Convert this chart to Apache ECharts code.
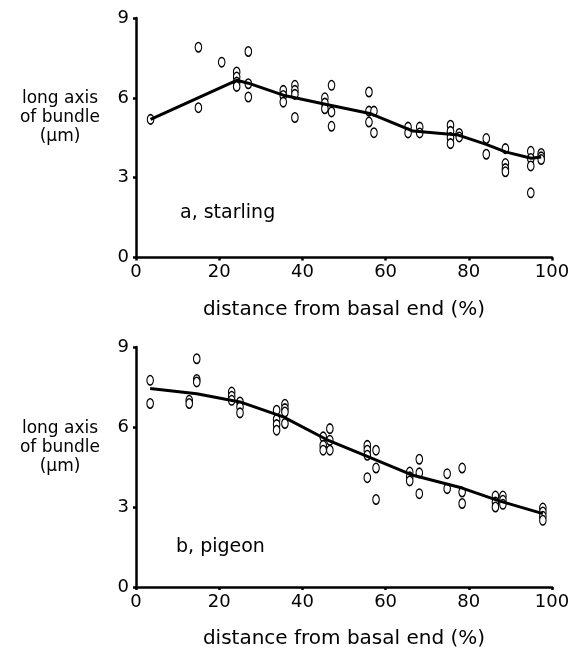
<!DOCTYPE html>
<html>
<head>
<meta charset="utf-8">
<script src="https://cdn.jsdelivr.net/npm/echarts@6/dist/echarts.min.js"></script>
<style>html,body{margin:0;padding:0;background:#fff}#c{width:573px;height:652px}</style>
</head>
<body>
<div id="c"></div>
<script>
// ---- data ----
const xTicks = [0, 20, 40, 60, 80, 100];
const yTicks = [0, 3, 6, 9];

// (a) starling: individual measurements
const starlingX = [3.5, 15, 15, 20.6, 24.2, 24.2, 24.2, 24.2, 27, 27, 27,
  35.4, 35.4, 35.4, 38.2, 38.2, 38.2, 38.2, 45.4, 45.4, 45.4, 47, 47, 47,
  56.0, 56.0, 56.0, 57.2, 57.2, 65.4, 65.4, 68.2, 68.2,
  75.6, 75.6, 75.6, 75.6, 77.7, 77.7, 84.2, 84.2,
  88.8, 88.8, 88.8, 88.8, 94.9, 94.9, 94.9, 94.9, 97.4, 97.4, 97.4];
const starlingY = [5.19, 7.9, 5.63, 7.34, 6.97, 6.78, 6.59, 6.43, 7.74, 6.53, 6.03,
  6.28, 6.09, 5.84, 6.47, 6.28, 6.13, 5.26, 6.0, 5.8, 5.59, 6.47, 5.47, 4.93,
  6.22, 5.5, 5.09, 5.5, 4.69, 4.9, 4.68, 4.9, 4.68,
  4.97, 4.74, 4.51, 4.28, 4.66, 4.53, 4.47, 3.88,
  4.09, 3.53, 3.34, 3.22, 3.99, 3.72, 3.44, 2.43, 3.91, 3.78, 3.68];
// (a) starling: mean line
const starlingLineX = [3.5, 24.2, 27, 35.4, 45.8, 56.5, 66.6, 77.5, 84.2, 88.8, 95, 97.4];
const starlingLineY = [5.19, 6.66, 6.55, 6.1, 5.75, 5.4, 4.75, 4.6, 4.25, 3.97, 3.73, 3.78];

// (b) pigeon: individual measurements
const pigeonX = [3.4, 3.4, 14.6, 14.6, 14.6, 12.8, 12.8, 23, 23, 23, 25, 25, 25,
  33.8, 33.8, 33.8, 33.8, 35.8, 35.8, 35.8, 35.8, 45, 45, 45, 46.6, 46.6, 46.6,
  55.6, 55.6, 55.6, 57.7, 57.7, 55.6, 57.7, 65.8, 65.8, 65.8, 68.1, 68.1, 68.1,
  74.8, 74.8, 78.4, 78.4, 78.4, 86.4, 86.4, 86.4, 88.2, 88.2, 88.2,
  97.8, 97.8, 97.8, 97.8];
const pigeonY = [7.75, 6.88, 8.56, 7.78, 7.69, 7.0, 6.88, 7.31, 7.15, 7.0, 6.94, 6.75, 6.53,
  6.63, 6.28, 6.09, 5.88, 6.85, 6.69, 6.56, 6.13, 5.63, 5.31, 5.13, 5.94, 5.5, 5.13,
  5.31, 5.13, 4.94, 5.13, 4.46, 4.1, 3.28, 4.31, 4.13, 3.98, 4.79, 4.28, 3.5,
  4.25, 3.69, 4.46, 3.56, 3.13, 3.41, 3.19, 3.0, 3.41, 3.25, 3.1,
  2.96, 2.81, 2.65, 2.5];
// (b) pigeon: mean line
const pigeonLineX = [3.4, 14.6, 25, 35.4, 45.8, 55.6, 66.6, 78.4, 87.3, 97.8];
const pigeonLineY = [7.44, 7.25, 6.94, 6.38, 5.53, 4.9, 4.19, 3.71, 3.23, 2.75];

const panelLabels = ['a, starling', 'b, pigeon'];
const xName = 'distance from basal end (%)';
const yName = 'long axis\nof bundle\n(µm)';

// ---- chart ----
const zip = (a, b) => a.map((v, i) => [v, b[i]]);
const FONT = 'DejaVu Sans';
const grids = [
  { left: 136, top: 18, width: 416, height: 239.5 },
  { left: 136, top: 347, width: 416, height: 240 }
];
function xAxis(i) {
  return {
    gridIndex: i, type: 'value', min: 0, max: 100, interval: 20,
    name: xName, nameLocation: 'middle', nameGap: 42,
    nameTextStyle: { fontFamily: FONT, fontSize: 20, color: '#000' },
    axisLine: { lineStyle: { color: '#000', width: 2.5 } },
    axisTick: { show: true, length: 3, lineStyle: { color: '#000', width: 2.5 } },
    axisLabel: { fontFamily: FONT, fontSize: 18, color: '#000', margin: 6 },
    splitLine: { show: false }
  };
}
function yAxis(i) {
  return {
    gridIndex: i, type: 'value', min: 0, max: 9, interval: 3,
    axisLine: { show: true, lineStyle: { color: '#000', width: 2.5 } },
    axisTick: { show: true, length: 3, lineStyle: { color: '#000', width: 2.5 } },
    axisLabel: { fontFamily: FONT, fontSize: 18, color: '#000', margin: 7 },
    splitLine: { show: false }
  };
}
function scatter(i, xs, ys) {
  return {
    type: 'scatter', xAxisIndex: i, yAxisIndex: i, data: zip(xs, ys),
    symbol: 'circle', symbolSize: [6.5, 9.5],
    itemStyle: { color: '#fff', borderColor: '#000', borderWidth: 1.3, opacity: 1 },
    z: 3
  };
}
function line(i, xs, ys) {
  return {
    type: 'line', xAxisIndex: i, yAxisIndex: i, data: zip(xs, ys),
    showSymbol: false, symbol: 'none',
    lineStyle: { color: '#000', width: 3 }, z: 4, animation: false
  };
}
const chart = echarts.init(document.getElementById('c'), null, { renderer: 'canvas' });
chart.setOption({
  animation: false,
  backgroundColor: '#fff',
  grid: grids,
  xAxis: [xAxis(0), xAxis(1)],
  yAxis: [yAxis(0), yAxis(1)],
  series: [
    scatter(0, starlingX, starlingY), line(0, starlingLineX, starlingLineY),
    scatter(1, pigeonX, pigeonY), line(1, pigeonLineX, pigeonLineY)
  ],
  graphic: [
    { type: 'text', left: 180, top: 204, style: { text: panelLabels[0], font: '19px "DejaVu Sans"', fill: '#000' } },
    { type: 'text', left: 176, top: 538, style: { text: panelLabels[1], font: '19px "DejaVu Sans"', fill: '#000' } },
    { type: 'text', x: 60, y: 118, style: { text: yName, font: '17px "DejaVu Sans"', fill: '#000', align: 'center', verticalAlign: 'middle', lineHeight: 19 } },
    { type: 'text', x: 60, y: 448, style: { text: yName, font: '17px "DejaVu Sans"', fill: '#000', align: 'center', verticalAlign: 'middle', lineHeight: 19 } }
  ]
});
</script>
</body>
</html>
